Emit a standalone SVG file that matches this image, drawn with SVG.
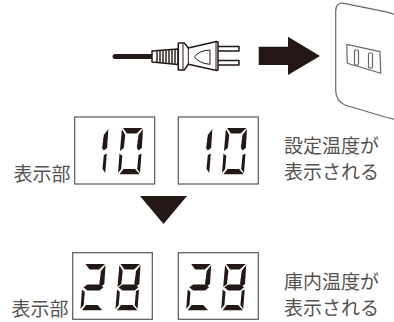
<svg xmlns="http://www.w3.org/2000/svg" width="394" height="322" viewBox="0 0 394 322">
<style>
.box{fill:#fff;stroke:#5a5754;stroke-width:1.2}
.ink{fill:#231815}
.ln{fill:#fff;stroke:#231815;stroke-width:1.5;stroke-linejoin:round}
.thin{fill:none;stroke:#231815;stroke-width:1}
.wall{fill:#fff;stroke:#6a6764;stroke-width:1.2;stroke-linejoin:round}
text{font-family:"Noto Sans CJK JP","Noto Sans CJK SC",sans-serif;font-size:19px;font-weight:400;fill:#55524f}
</style>
<defs>
<polygon id="a" points="5,0 24.5,0 18.5,5.5 9,5.5"/>
<polygon id="b" points="25,1 20.5,7 18.8,20 20.5,22.5 23.8,20"/>
<polygon id="c" points="23.5,25.5 20.5,27 19.2,41 22,45"/>
<polygon id="d" points="1.5,46.3 21.8,46.3 17,41 5.5,41"/>
<polygon id="e" points="1.5,25.5 4.3,28 3.2,41 0,45"/>
<polygon id="f" points="3.9,1 7.2,7 5.8,20 2,23"/>
<polygon id="g" points="3,23.3 7,20.4 19,20.4 23,23.3 19,26.4 7,26.4"/>
<g id="one" class="ink"><use href="#b"/><use href="#c"/></g>
<g id="zero" class="ink"><use href="#a"/><use href="#b"/><use href="#c"/><use href="#d"/><use href="#e"/><use href="#f"/></g>
<g id="two" class="ink"><use href="#a"/><use href="#b"/><use href="#g"/><use href="#e"/><use href="#d"/></g>
<g id="eight" class="ink"><use href="#a"/><use href="#b"/><use href="#c"/><use href="#d"/><use href="#e"/><use href="#f"/><use href="#g"/></g>
</defs>

<g id="plug">
<line x1="115" y1="56.5" x2="152" y2="56.5" stroke="#231815" stroke-width="5" stroke-linecap="round"/>
<rect x="217" y="46.5" width="22" height="4.6" class="ln"/>
<rect x="217" y="60.5" width="22" height="4.6" class="ln"/>
<path class="ln" d="M152 51 L178 49 V64.5 L152 62 Z"/>
<path d="M157 50.8V62.6M160 50.6V62.8M163 50.4V63M166 50.2V63.2M169 50V63.4M172 49.8V63.6M175 49.6V63.8" stroke="#231815" stroke-width="1.4" fill="none"/>
<path class="ln" d="M178.3 43 H184.3 L188.3 48 L216.5 41.5 L218 42 V70 L216.5 70.5 L188.3 64.3 L184.3 70 H178.3 Z"/>
<path class="thin" d="M183 43.5 V69.5 M188.3 48 V64.3 M216 42 V70"/>
<path class="thin" d="M194.5 56.8 Q199 50.5 210 50 V64.3 Q199 63.5 194.5 56.8 Z"/>
</g>

<g id="arrow-right">
<polygon class="ink" points="258.7,46.7 288,46.7 288,36.7 320,56 288,75 288,65 258.7,65"/>
</g>

<g id="outlet">
<path class="wall" d="M396 14.6 L385 11.7 L344 3.3 Q335.7 2 335.7 11 V90 Q335.7 101 345 105 L385 117 L396 119.5"/>
<polygon class="wall" points="346.7,44.3 380,51.7 380.7,73.3 347.3,63.3"/>
<rect class="wall" x="354.5" y="50" width="4" height="15" rx="1"/>
<rect class="wall" x="368.5" y="53" width="4" height="15" rx="1"/>
</g>

<g id="display-set-1">
<rect class="box" x="74.7" y="117" width="80" height="67"/>
<use href="#one" x="83.3" y="128"/>
<use href="#zero" x="118" y="128"/>
</g>
<g id="display-set-2">
<rect class="box" x="178.3" y="117" width="80" height="67"/>
<use href="#one" x="187.3" y="128"/>
<use href="#zero" x="222" y="128"/>
</g>
<g id="label-display-1"><text x="13.5" y="181">表示部</text></g>
<g id="label-set">
<text x="284" y="153">設定温度が</text>
<text x="284" y="178.5">表示される</text>
</g>

<g id="arrow-down">
<polygon class="ink" points="140,196 187,196 163.5,224"/>
</g>

<g id="display-temp-1">
<rect class="box" x="72.7" y="252.7" width="79.6" height="66.6"/>
<use href="#two" x="80.5" y="264"/>
<use href="#eight" x="115.5" y="264"/>
</g>
<g id="display-temp-2">
<rect class="box" x="178.3" y="252.7" width="80" height="66.6"/>
<use href="#two" x="186.2" y="264"/>
<use href="#eight" x="221.2" y="264"/>
</g>
<g id="label-display-2"><text x="11.5" y="316">表示部</text></g>
<g id="label-temp">
<text x="284" y="289">庫内温度が</text>
<text x="284" y="315">表示される</text>
</g>
</svg>
